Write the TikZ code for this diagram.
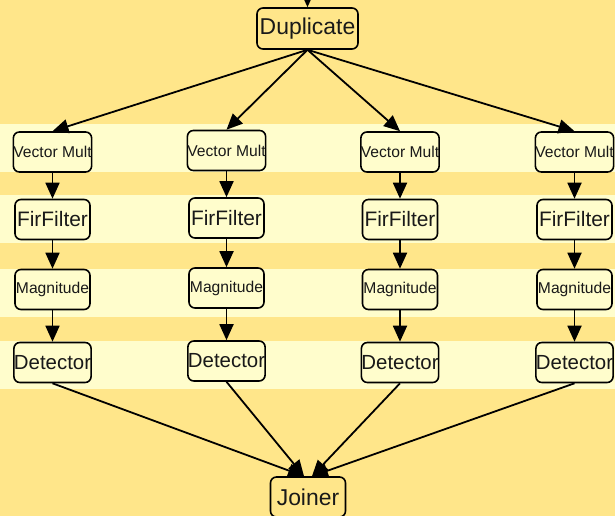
\documentclass[tikz,border=0pt]{standalone}
\usepackage{fontspec}
\setmainfont{Liberation Sans}
\usetikzlibrary{arrows.meta}
\definecolor{bgyellow}{HTML}{FFE68A}
\definecolor{bandyellow}{HTML}{FFFDCC}
\tikzset{
  block/.style={draw=black, line width=1.6bp, rounded corners=6bp, inner sep=0pt,
    minimum width=75bp, minimum height=40bp, text=black!90},
  bigtext/.style={font=\fontsize{21}{21}\selectfont},
  smalltext/.style={font=\fontsize{15.7}{15.7}\selectfont},
  flow/.style={draw=black, line width=1.8bp, -{Triangle[length=16bp,width=14bp]}},
}
\begin{document}
\begin{tikzpicture}[x=1bp, y=-1bp]
  \useasboundingbox (0,0) rectangle (615,516);
  % background and row bands
  \fill[bgyellow] (0,0) rectangle (615,516);
  \foreach \top/\bot in {124/172, 195/243, 269/317, 341/389}
    \fill[bandyellow] (0,\top) rectangle (615,\bot);

  % splitter and joiner
  \node[block, minimum width=101bp, minimum height=41bp, font=\fontsize{23}{23}\selectfont] (dup) at (307.5,28.5) {Duplicate};
  \node[block, font=\fontsize{23}{23}\selectfont] (join) at (308,497) {Joiner};
  \coordinate (src) at (307.5,-40);
  \draw[flow] (src) -- (dup.north);

  % four processing chains
  \foreach \i/\x/\dy in {1/52.5/0, 2/226.5/-1.5, 3/400/0, 4/574.5/0} {
    \node[block, smalltext] (vm\i) at (\x,152+\dy) {Vector Mult};
    \node[block, bigtext] (ff\i) at (\x,219.5+\dy) {FirFilter};
    \node[block, smalltext] (mag\i) at (\x,289.5+\dy) {Magnitude};
    \node[block, font=\fontsize{20.5}{20.5}\selectfont] (det\i) at (\x,362.5+\dy) {Detector};
    \draw[flow] (dup.south) -- (vm\i.north);
    \draw[flow] (vm\i.south) -- (ff\i.north);
    \draw[flow] (ff\i.south) -- (mag\i.north);
    \draw[flow] (mag\i.south) -- (det\i.north);
  }
  \draw[flow] (det1.south) -- ([xshift=-4bp]join.north);
  \draw[flow] (det2.south) -- ([xshift=-4bp]join.north);
  \draw[flow] (det3.south) -- ([xshift=4bp]join.north);
  \draw[flow] (det4.south) -- ([xshift=4bp]join.north);
\end{tikzpicture}
\end{document}
